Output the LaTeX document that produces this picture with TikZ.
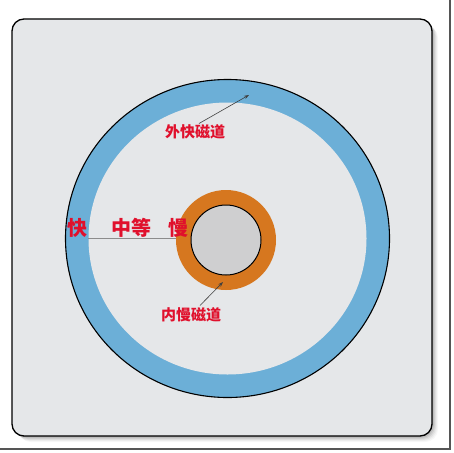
\documentclass[tikz,border=0pt]{standalone}
\usepackage{fontspec}
\newfontfamily\cjk{Noto Sans CJK SC}
\usetikzlibrary{arrows.meta}
\definecolor{bgpanel}{HTML}{E5E7E9}
\definecolor{trackblue}{HTML}{6CAFD7}
\definecolor{trackorange}{HTML}{D6771F}
\definecolor{hubgray}{HTML}{CFCFD0}
\definecolor{labelred}{HTML}{E0102C}
\definecolor{framegray}{HTML}{555555}
\tikzset{
  lbl/.style={text=labelred, font=\cjk\bfseries\fontsize{15}{15}\selectfont, inner sep=0pt},
  biglbl/.style={lbl, font=\cjk\bfseries\fontsize{20}{20}\selectfont},
  pointer/.style={draw=black!75, line width=0.6pt, -{Stealth[length=5pt,width=3.5pt]}},
  shade/.style={fill=black, fill opacity=#1, draw=none}
}
\begin{document}
\begin{tikzpicture}[x=1pt,y=-1pt]
\useasboundingbox (0,0) rectangle (454,452);
\fill[white] (0,0) rectangle (454,452);
% frame lines
\draw[framegray, line width=1.5pt] (450,0) -- (450,449) -- (0,449);
% panel shadow
\foreach \i/\o in {1/0.10,2/0.08,3/0.07,4/0.05,5/0.04,6/0.03}
  \fill[shade=\o, rounded corners=13pt] (12+\i,19+\i) rectangle (432+\i,436+\i);
% panel
\fill[bgpanel, rounded corners=12pt] (12,19) rectangle (432,436);
\draw[black, line width=1.3pt, rounded corners=12pt] (12,19) rectangle (432,436);
% outer track
\coordinate (bigc) at (227.5,238.5);
\fill[trackblue] (bigc) ellipse [x radius=162, y radius=159];
\fill[bgpanel] (bigc) ellipse [x radius=139, y radius=136];
\draw[black, line width=1.1pt] (bigc) ellipse [x radius=162, y radius=159];
% speed line
\coordinate (lineL) at (88,238);
\coordinate (lineR) at (200,238);
\draw[black!45, line width=0.7pt] (lineL) -- (lineR);
% inner track
\coordinate (smallc) at (226,240);
\fill[trackorange] (smallc) circle [radius=50];
\fill[hubgray] (smallc) circle [radius=35];
\draw[black, line width=1pt] (smallc) circle [radius=35];
% labels
\node[biglbl] (fast) at (77,228) {快};
\node[biglbl] (mid) at (131,228) {中等};
\node[biglbl] (slow) at (178,228) {慢};
\node[lbl] (outerlbl) at (195,132) {外快磁道};
\node[lbl] (innerlbl) at (191,315) {内慢磁道};
% pointers
\coordinate (outerpt) at (249,95);
\coordinate (innerpt) at (223,282);
\draw[pointer] (outerlbl.north) ++(4,-1) coordinate (otail) (otail) -- (outerpt);
\draw[pointer] (innerlbl.north) ++(9,-2) coordinate (itail) (itail) -- (innerpt);
\end{tikzpicture}
\end{document}
